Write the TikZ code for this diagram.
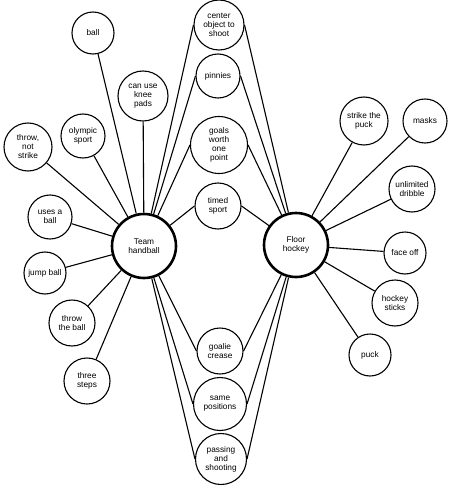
\documentclass[tikz,border=0pt]{standalone}
\usepackage{fontspec}
\setmainfont{Liberation Sans}
\begin{document}
\begin{tikzpicture}[x=1pt,y=-1pt,
  bub/.style={draw,circle,line width=1.1pt,inner sep=0pt,align=center,font=\fontsize{8.3}{9}\selectfont},
  hub/.style={bub,line width=2.6pt},
  link/.style={line width=1.1pt}]
\useasboundingbox (0,0) rectangle (452,492);
% hubs
\node[hub,minimum size=64pt] (th) at (144,246) {Team\\handball};
\node[hub,minimum size=64pt] (fh) at (296,245) {Floor\\hockey};
% left
\node[bub,minimum size=42pt] (ball) at (93,33) {ball};
\node[bub,minimum size=50pt] (knee) at (143,96) {can use\\knee\\pads};
\node[bub,minimum size=44pt] (oly) at (83,136) {olympic\\sport};
\node[bub,minimum size=48pt] (tns) at (28,147) {throw,\\not\\strike};
\node[bub,minimum size=44pt] (uab) at (50,217) {uses a\\ball};
\node[bub,minimum size=42pt] (jb) at (45,273) {jump ball};
\node[bub,minimum size=46pt] (ttb) at (72,323) {throw\\the ball};
\node[bub,minimum size=46pt] (ts) at (87,381) {three\\steps};
% middle
\node[bub,minimum size=50pt] (cos) at (219,25) {center\\object to\\shoot};
\node[bub,minimum size=44pt] (pin) at (218,76) {pinnies};
\node[bub,minimum size=57pt] (gwp) at (219,145) {goals\\worth\\one\\point};
\node[bub,minimum size=46pt] (tsp) at (218,206) {timed\\sport};
\node[bub,minimum size=46pt] (gc) at (220,351) {goalie\\crease};
\node[bub,minimum size=53pt] (sp) at (220,404) {same\\positions};
\node[bub,minimum size=51pt] (pas) at (221,459) {passing\\and\\shooting};
% right
\node[bub,minimum size=48pt] (stp) at (364,121) {strike the\\puck};
\node[bub,minimum size=44pt] (msk) at (425,121) {masks};
\node[bub,minimum size=46pt] (ud) at (412,189) {unlimited\\dribble};
\node[bub,minimum size=42pt] (fo) at (405,253) {face off};
\node[bub,minimum size=46pt] (hs) at (395,303) {hockey\\sticks};
\node[bub,minimum size=42pt] (pk) at (370,355) {puck};
% links
\foreach \n in {ball,knee,oly,tns,uab,jb,ttb,ts} \draw[link] (th) -- (\n);
\foreach \n in {cos,pin,gwp,tsp,gc,sp,pas} {
  \draw[link] (th) -- (\n.west);
  \draw[link] (fh) -- (\n.east);
}
\foreach \n in {stp,msk,ud,fo,hs,pk} \draw[link] (fh) -- (\n);
\end{tikzpicture}
\end{document}
